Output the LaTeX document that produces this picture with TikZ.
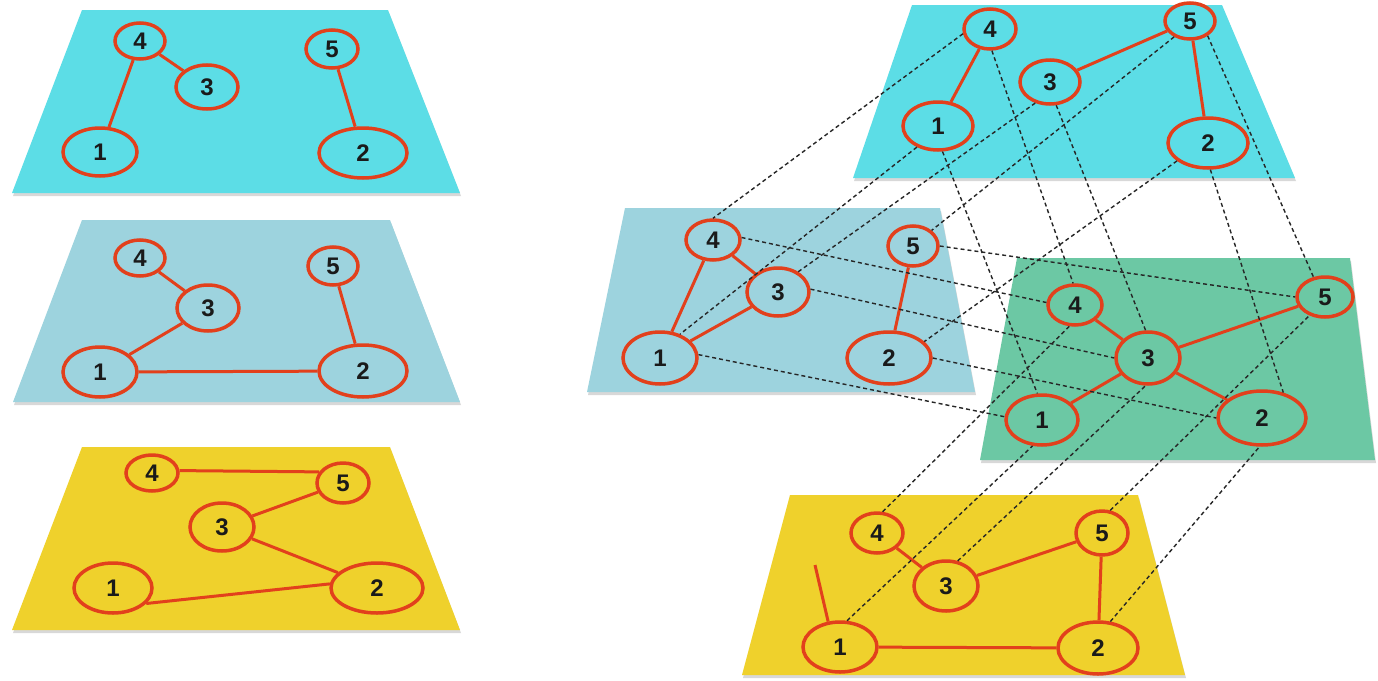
\documentclass[tikz,border=0pt]{standalone}
\usepackage{fontspec}
\setmainfont{Liberation Sans}
\usetikzlibrary{shapes.geometric}
\definecolor{cyanp}{HTML}{5CDDE6}
\definecolor{bluep}{HTML}{9DD3DE}
\definecolor{greenp}{HTML}{6CC8A4}
\definecolor{yellowp}{HTML}{EFD12C}
\definecolor{redc}{HTML}{E2401C}
\definecolor{txt}{HTML}{1A1A1A}
\begin{document}
\begin{tikzpicture}[x=1pt,y=-1pt,
  nd/.style={ellipse, draw=redc, line width=3.5pt, inner sep=0pt, text=txt,
    font=\fontsize{24}{24}\selectfont\bfseries},
  ed/.style={draw=redc, line width=3pt},
  dl/.style={black!85, line width=1.4pt, dash pattern=on 4pt off 3pt},
  shadow/.style={fill=black!25, opacity=0.6},
]
\useasboundingbox (0,0) rectangle (1378,680);
\fill[white] (0,0) rectangle (1378,680);

% ---------- planes ----------
\foreach \p in {
  {(82,10) -- (388,10) -- (460,193) -- (12,193)},
  {(82,220) -- (390,220) -- (460,402) -- (13,402)},
  {(82,447) -- (390,447) -- (460,630) -- (12,630)},
  {(912,5) -- (1222,5) -- (1295,178) -- (853,178)},
  {(625,208) -- (940,208) -- (975,392) -- (587,392)},
  {(1017,258) -- (1350,258) -- (1375,460) -- (980,460)},
  {(790,495) -- (1138,495) -- (1185,675) -- (742,675)}}
  {\fill[shadow, shift={(1,3)}] \p -- cycle;}
\fill[cyanp] (82,10) -- (388,10) -- (460,193) -- (12,193) -- cycle;
\fill[bluep] (82,220) -- (390,220) -- (460,402) -- (13,402) -- cycle;
\fill[yellowp] (82,447) -- (390,447) -- (460,630) -- (12,630) -- cycle;
\fill[cyanp] (912,5) -- (1222,5) -- (1295,178) -- (853,178) -- cycle;
\fill[bluep] (625,208) -- (940,208) -- (975,392) -- (587,392) -- cycle;
\fill[greenp] (1017,258) -- (1350,258) -- (1375,460) -- (980,460) -- cycle;
\fill[yellowp] (790,495) -- (1138,495) -- (1185,675) -- (742,675) -- cycle;

% ---------- left top ----------
\node[nd, minimum width=50pt, minimum height=36pt] (a4) at (140,41) {4};
\node[nd, minimum width=62pt, minimum height=44pt] (a3) at (207,87) {3};
\node[nd, minimum width=52pt, minimum height=38pt] (a5) at (332,49) {5};
\node[nd, minimum width=74pt, minimum height=48pt] (a1) at (100,152) {1};
\node[nd, minimum width=88pt, minimum height=50pt] (a2) at (363,153) {2};
\draw[ed] (a4) -- (a1);
\draw[ed] (a4) -- (a3);
\draw[ed] (a5) -- (a2);

% ---------- left middle ----------
\node[nd, minimum width=50pt, minimum height=36pt] (b4) at (140,258) {4};
\node[nd, minimum width=62pt, minimum height=46pt] (b3) at (208,308) {3};
\node[nd, minimum width=50pt, minimum height=38pt] (b5) at (333,266) {5};
\node[nd, minimum width=74pt, minimum height=50pt] (b1) at (100,372) {1};
\node[nd, minimum width=88pt, minimum height=52pt] (b2) at (363,371) {2};
\draw[ed] (b4) -- (b3);
\draw[ed] (b3) -- (b1);
\draw[ed] (b1) -- (b2);
\draw[ed] (b2) -- (b5);

% ---------- left bottom ----------
\node[nd, minimum width=52pt, minimum height=36pt] (c4) at (152,473) {4};
\node[nd, minimum width=52pt, minimum height=40pt] (c5) at (343,483) {5};
\node[nd, minimum width=64pt, minimum height=48pt] (c3) at (222,527) {3};
\node[nd, minimum width=78pt, minimum height=50pt] (c1) at (113,588) {1};
\node[nd, minimum width=92pt, minimum height=50pt] (c2) at (377,588) {2};
\draw[ed] (c4.5) -- (c5.155);
\draw[ed] (c5) -- (c3);
\draw[ed] (c3) -- (c2);
\draw[ed] (c1.-25) -- (c2.175);

% ---------- right cyan ----------
\node[nd, minimum width=52pt, minimum height=40pt] (p4) at (990,29) {4};
\node[nd, minimum width=50pt, minimum height=36pt] (p5) at (1190,21) {5};
\node[nd, minimum width=60pt, minimum height=44pt] (p3) at (1050,82) {3};
\node[nd, minimum width=70pt, minimum height=48pt] (p1) at (938,126) {1};
\node[nd, minimum width=80pt, minimum height=50pt] (p2) at (1208,143) {2};
\draw[ed] (p4) -- (p1);
\draw[ed] (p5) -- (p3);
\draw[ed] (p5) -- (p2);

% ---------- right blue ----------
\node[nd, minimum width=54pt, minimum height=40pt] (q4) at (713,240) {4};
\node[nd, minimum width=62pt, minimum height=48pt] (q3) at (778,292) {3};
\node[nd, minimum width=50pt, minimum height=40pt] (q5) at (913,246) {5};
\node[nd, minimum width=74pt, minimum height=52pt] (q1) at (660,358) {1};
\node[nd, minimum width=84pt, minimum height=52pt] (q2) at (889,358) {2};
\draw[ed] (q4) -- (q1);
\draw[ed] (q4) -- (q3);
\draw[ed] (q1) -- (q3);
\draw[ed] (q5) -- (q2);

% ---------- right green ----------
\node[nd, minimum width=54pt, minimum height=40pt] (g4) at (1075,305) {4};
\node[nd, minimum width=64pt, minimum height=52pt] (g3) at (1148,358) {3};
\node[nd, minimum width=56pt, minimum height=40pt] (g5) at (1325,297) {5};
\node[nd, minimum width=72pt, minimum height=50pt] (g1) at (1042,420) {1};
\node[nd, minimum width=88pt, minimum height=54pt] (g2) at (1262,418) {2};
\draw[ed] (g3) -- (g4);
\draw[ed] (g3) -- (g5);
\draw[ed] (g3) -- (g1);
\draw[ed] (g3) -- (g2);

% ---------- right yellow ----------
\node[nd, minimum width=52pt, minimum height=40pt] (y4) at (877,533) {4};
\node[nd, minimum width=52pt, minimum height=44pt] (y5) at (1102,533) {5};
\node[nd, minimum width=64pt, minimum height=50pt] (y3) at (946,586) {3};
\node[nd, minimum width=74pt, minimum height=50pt] (y1) at (840,647) {1};
\node[nd, minimum width=80pt, minimum height=52pt] (y2) at (1098,648) {2};
\coordinate (ystub) at (815,565);
\draw[ed] (y4) -- (y3);
\draw[ed] (y3) -- (y5);
\draw[ed] (y5) -- (y2);
\draw[ed] (y1) -- (y2);
\draw[ed] (y1.115) -- (ystub);

% ---------- dashed inter-layer links ----------
% cyan -> blue
\draw[dl] (p4.190) -- (q4.90);
\draw[dl] (p1.225) -- (q1.50);
\draw[dl] (p3.235) -- (q3.45);
\draw[dl] (p5.225) -- (q5.40);
\draw[dl] (p2.210) -- (q2.25);
% cyan -> green
\draw[dl] (p4.275) -- (g4.95);
\draw[dl] (p1.280) -- (g1.100);
\draw[dl] (p3.285) -- (g3.95);
\draw[dl] (p5.320) -- (g5.120);
\draw[dl] (p2.275) -- (g2.50);
% blue -> green
\draw[dl] (q4.5) -- (g4.175);
\draw[dl] (q3.5) -- (g3.180);
\draw[dl] (q5.0) -- (g5.180);
\draw[dl] (q1.5) -- (g1.175);
\draw[dl] (q2.0) -- (g2.180);
% yellow -> green
\draw[dl] (y4.75) -- (g4.255);
\draw[dl] (y1.75) -- (g1.250);
\draw[dl] (y3.65) -- (g3.265);
\draw[dl] (y5.70) -- (g5.230);
\draw[dl] (y2.65) -- (g2.265);
\end{tikzpicture}
\end{document}
